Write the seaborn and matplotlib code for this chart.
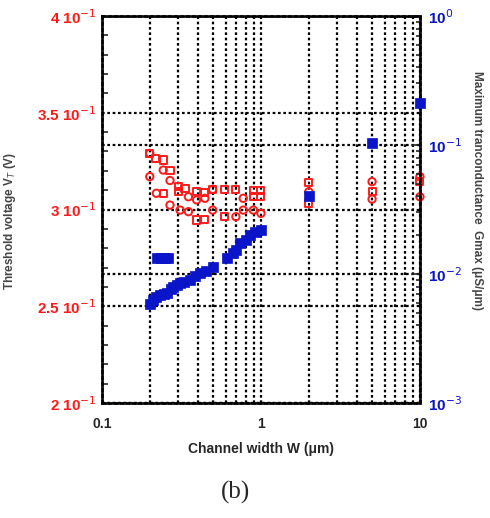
import numpy as np
import pandas as pd
import matplotlib
matplotlib.use("Agg")
import matplotlib.pyplot as plt
import seaborn as sns
from matplotlib.ticker import FixedLocator, MultipleLocator, LogLocator, NullFormatter

sns.set_style("white")
plt.rcParams['font.family'] = ['Liberation Sans', 'DejaVu Sans']

# Threshold voltage (left axis), open squares
vt_sq_w = [0.2, 0.218, 0.243, 0.243, 0.268, 0.302, 0.302, 0.333, 0.394, 0.394, 0.444, 0.444,
           0.497, 0.594, 0.594, 0.696, 0.896, 0.896, 1.0, 1.0, 2.0, 2.0, 5.0, 10.0]
vt_sq_v = [0.329, 0.3265, 0.3256, 0.3084, 0.320, 0.3118, 0.3092, 0.311, 0.3092, 0.2946, 0.309, 0.2949,
           0.3104, 0.3104, 0.2963, 0.3104, 0.310, 0.3066, 0.310, 0.3066, 0.3139, 0.3032, 0.3092, 0.3144]
# Threshold voltage (left axis), open circles
vt_ci_w = [0.2, 0.2, 0.22, 0.243, 0.268, 0.268, 0.31, 0.35, 0.35, 0.394, 0.444, 0.497,
           0.497, 0.696, 0.774, 0.774, 0.896, 1.0, 2.0, 5.0, 5.0, 10.0, 10.0]
vt_ci_v = [0.329, 0.317, 0.3084, 0.3204, 0.315, 0.3023, 0.2997, 0.3066, 0.2989, 0.305, 0.3058, 0.3104,
           0.2997, 0.2963, 0.3058, 0.2997, 0.2997, 0.298, 0.3092, 0.3144, 0.3054, 0.317, 0.3066]

# Maximum transconductance (right axis), filled squares
gm_w = [0.2, 0.21, 0.22, 0.232, 0.245, 0.255, 0.27, 0.28, 0.295, 0.31, 0.33, 0.357, 0.385,
        0.413, 0.45, 0.5, 0.608, 0.67, 0.70, 0.74, 0.8, 0.85, 0.92, 1.0, 2.0, 5.0, 10.0,
        0.222, 0.235, 0.248, 0.26]
gm_g = [0.0059, 0.0063, 0.0066, 0.0069, 0.0070, 0.0071, 0.0076, 0.0080, 0.0082, 0.0085, 0.0087, 0.0090, 0.0096,
        0.0101, 0.0106, 0.0114, 0.0132, 0.0145, 0.0154, 0.0175, 0.0184, 0.0200, 0.0210, 0.0220, 0.040, 0.104, 0.21,
        0.0132, 0.0132, 0.0132, 0.0132]

df_sq = pd.DataFrame({"W": vt_sq_w, "V": vt_sq_v})
df_ci = pd.DataFrame({"W": vt_ci_w, "V": vt_ci_v})
df_gm = pd.DataFrame({"W": gm_w, "G": gm_g})

fig = plt.figure(figsize=(4.9, 5.18), dpi=100)
ax = fig.add_axes([0.208, 0.222, 0.649, 0.747])
ax2 = ax.twinx()

red = "#ff1a1a"
blue = "#0a14c8"

sns.scatterplot(data=df_sq, x="W", y="V", ax=ax, marker="s", s=26, facecolor="none",
                edgecolor=red, linewidth=1.4, zorder=5, clip_on=False)
sns.scatterplot(data=df_ci, x="W", y="V", ax=ax, marker="o", s=28, facecolor="none",
                edgecolor=red, linewidth=1.4, zorder=5, clip_on=False)
sns.scatterplot(data=df_gm, x="W", y="G", ax=ax2, marker="s", s=62, color=blue,
                edgecolor=blue, linewidth=0.5, zorder=5, clip_on=False)

ax.set_xscale("log")
ax.set_xlim(0.1, 10)
ax.set_ylim(0.2, 0.4)
ax2.set_yscale("log")
ax2.set_ylim(1e-3, 1e0)

ax.yaxis.set_major_locator(FixedLocator([0.2, 0.25, 0.3, 0.35, 0.4]))
ax.yaxis.set_minor_locator(MultipleLocator(0.01))
ax.set_yticklabels(["2 10$^{-1}$", "2.5 10$^{-1}$", "3 10$^{-1}$", "3.5 10$^{-1}$", "4 10$^{-1}$"],
                   color=red, fontweight="bold", fontsize=11)
ax.set_xticks([0.1, 1, 10])
ax.set_xticklabels(["0.1", "1", "10"], fontweight="bold", fontsize=10)
ax.xaxis.set_minor_locator(LogLocator(base=10, subs=np.arange(2, 10)))
ax.xaxis.set_minor_formatter(NullFormatter())

ax2.yaxis.set_major_locator(FixedLocator([1e-3, 1e-2, 1e-1, 1e0]))
ax2.yaxis.set_minor_locator(LogLocator(base=10, subs=np.arange(2, 10)))
ax2.yaxis.set_minor_formatter(NullFormatter())
ax2.set_yticklabels(["10$^{-3}$", "10$^{-2}$", "10$^{-1}$", "10$^{0}$"],
                    color=blue, fontweight="bold", fontsize=11)

grid_kw = dict(color="black", linestyle=(0, (1.2, 1.2)), linewidth=1.6)
ax.grid(True, which="both", axis="x", **grid_kw)
ax.grid(True, which="major", axis="y", **grid_kw)
ax2.grid(True, which="major", axis="y", **grid_kw)
ax.set_axisbelow(True)
ax2.set_axisbelow(True)

for a in (ax, ax2):
    for sp in a.spines.values():
        sp.set_color("black")
        sp.set_linewidth(1.8)
        sp.set_linestyle((0, (1.2, 1.2)))
ax.tick_params(axis="y", which="both", direction="in", left=True, right=False, length=4, width=1.2)
ax.tick_params(axis="y", which="major", length=0, pad=4)
ax.tick_params(axis="x", which="both", direction="in", bottom=True, length=0, pad=10)
ax2.tick_params(axis="y", which="both", direction="in", right=True, left=False, width=1.2)
ax2.tick_params(axis="y", which="major", length=6, pad=6)
ax2.tick_params(axis="y", which="minor", length=3)

ax.set_xlabel("Channel width W (μm)", fontweight="bold", fontsize=10, labelpad=8)
ax.set_ylabel("Threshold voltage V$_T$ (V)", fontweight="bold", fontsize=8.5, color="#444444")
ax.yaxis.set_label_coords(-0.265, 0.47)
ax2.set_ylabel("Maximum tranconductance  Gmax (μS/μm)", fontweight="bold", fontsize=8.5,
               color="#444444", rotation=270, va="center")
ax2.yaxis.set_label_coords(1.18, 0.55)

fig.text(0.48, 0.05, "(b)", family=["Liberation Serif", "DejaVu Serif"], fontsize=18, ha="center", va="center")

fig.savefig("out.png", dpi=100)
